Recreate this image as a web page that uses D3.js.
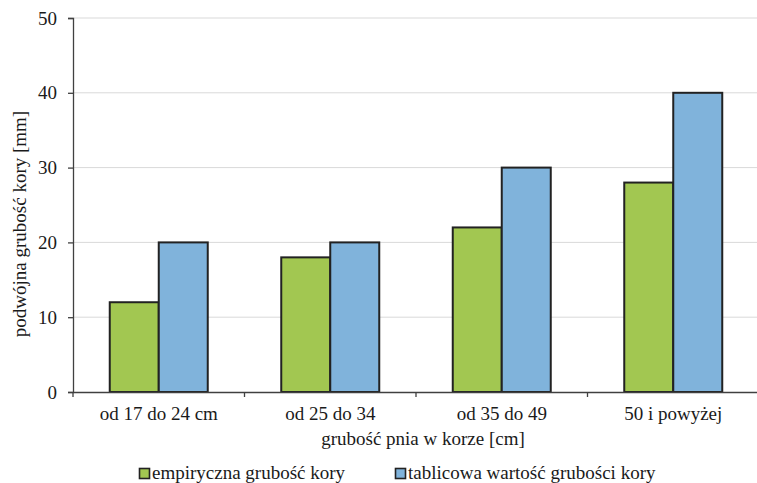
<!DOCTYPE html>
<html><head><meta charset="utf-8">
<script src="https://cdn.jsdelivr.net/npm/d3@7"></script>
<style>
body{margin:0;background:#fff}
#chart text{font-family:"Liberation Serif","Times New Roman",Times,serif !important;}
</style>
</head>
<body>
<svg id="chart" width="757" height="483" font-family="Liberation Serif"></svg>
<script>
const categories = ["od 17 do 24 cm", "od 25 do 34", "od 35 do 49", "50 i powyżej"];
const seriesNames = ["empiryczna grubość kory", "tablicowa wartość grubości kory"];
const empiryczna = [12, 18, 22, 28];
const tablicowa = [20, 20, 30, 40];
const yTicks = [0, 10, 20, 30, 40, 50];
const colors = ["#a2c751", "#80b3db"];

const TXT = "#1a1a1a";
const svg = d3.select("#chart");
const m = {left: 73, top: 18, bottom: 91};
const W = 757, H = 483;
const x = d3.scaleBand().domain(categories).range([m.left, 759]);
const y = d3.scaleLinear().domain([0, 50]).range([H - m.bottom, m.top]);
const barW = 49;

function serif(sel, size) {
  return sel.attr("font-family", "Liberation Serif").style("font-size", size + "px").attr("fill", TXT);
}

// gridlines
svg.append("g").selectAll("line").data(yTicks.filter(d => d > 0)).join("line")
  .attr("x1", m.left).attr("x2", W)
  .attr("y1", d => y(d)).attr("y2", d => y(d))
  .attr("stroke", "#d9d9d9").attr("stroke-width", 1);

// bars
const data = categories.map((c, i) => ({c, vals: [empiryczna[i], tablicowa[i]]}));
const g = svg.append("g").selectAll("g").data(data).join("g");
g.selectAll("rect").data(d => d.vals.map((v, j) => ({c: d.c, v, j}))).join("rect")
  .attr("x", d => x(d.c) + x.bandwidth() / 2 - barW + d.j * barW)
  .attr("y", d => y(d.v))
  .attr("width", barW)
  .attr("height", d => y(0) - y(d.v))
  .attr("fill", d => colors[d.j])
  .attr("stroke", "#222").attr("stroke-width", 2);

// y axis
const yAxis = svg.append("g").attr("transform", `translate(${m.left},0)`)
  .call(d3.axisLeft(y).tickValues(yTicks).tickSize(5).tickPadding(11));
yAxis.attr("font-family", "Liberation Serif").attr("font-size", null);
yAxis.select(".domain").attr("stroke", "#404040").attr("stroke-width", 1.3);
yAxis.selectAll(".tick line").attr("stroke", "#404040").attr("stroke-width", 1.3);
serif(yAxis.selectAll("text"), 19);

// x axis
const xAxis = svg.append("g").attr("transform", `translate(0,${y(0)})`)
  .call(d3.axisBottom(x).tickSize(0).tickPadding(15));
xAxis.attr("font-family", "Liberation Serif").attr("font-size", null);
xAxis.select(".domain").attr("stroke", "#404040").attr("stroke-width", 1.3);
serif(xAxis.selectAll("text"), 19);
// category separators
const sepX = [m.left, ...categories.slice(1).map(c => x(c))];
svg.append("g").selectAll("line").data(sepX).join("line")
  .attr("x1", d => d).attr("x2", d => d)
  .attr("y1", y(0)).attr("y2", y(0) + 5)
  .attr("stroke", "#404040").attr("stroke-width", 1.3);

// axis titles
serif(svg.append("text"), 19).attr("x", 423).attr("y", 445).attr("text-anchor", "middle")
  .text("grubość pnia w korze [cm]");
serif(svg.append("text"), 19).attr("transform", "translate(26,224) rotate(-90)")
  .attr("text-anchor", "middle")
  .text("podwójna grubość kory [mm]");

// legend
const legX = [139, 395];
const leg = svg.append("g").selectAll("g").data(seriesNames).join("g")
  .attr("transform", (d, i) => `translate(${legX[i]},468)`);
leg.append("rect").attr("width", 10).attr("height", 10).attr("x", 0.5).attr("y", 0.5)
  .attr("fill", (d, i) => colors[i]).attr("stroke", "#222").attr("stroke-width", 1.6);
serif(leg.append("text"), 19).attr("x", 13).attr("y", 11)
  .text(d => d);
</script>
</body></html>
